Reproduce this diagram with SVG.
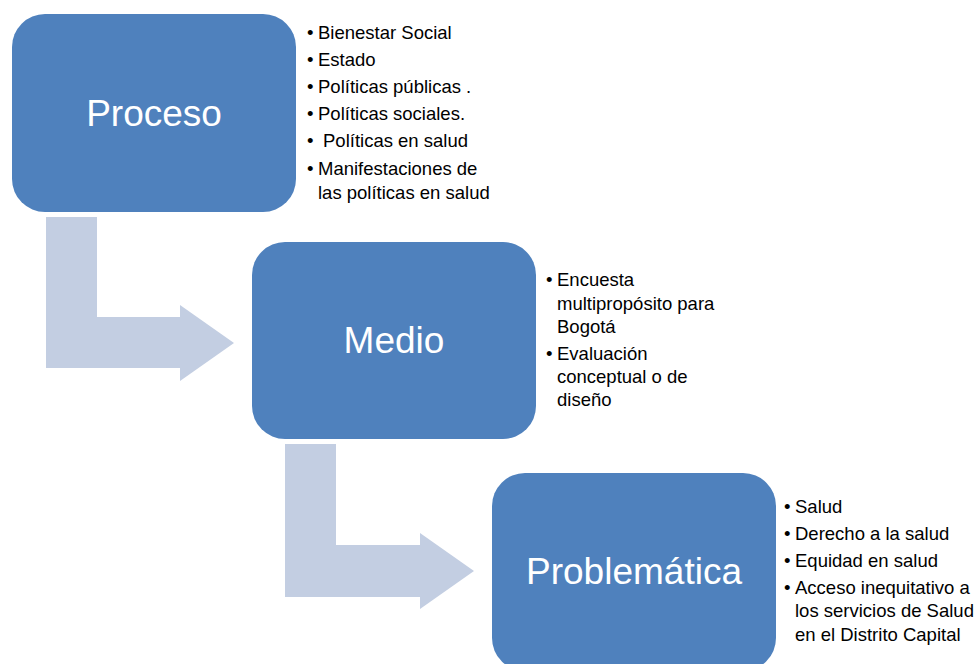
<svg xmlns="http://www.w3.org/2000/svg" width="980" height="664" viewBox="0 0 980 664">
<style>
.box{fill:#4F81BD}
.arr{fill:#C3CEE2}
.lbl{font-family:"Liberation Sans",Arial,sans-serif;font-size:37px;fill:#FFFFFF;text-anchor:middle}
.li{font-family:"Liberation Sans",Arial,sans-serif;font-size:18.5px;fill:#000000}
</style>
<rect width="980" height="664" fill="#FFFFFF"/>
<g id="connectors">
<path class="arr" d="M46,217 H97 V317 H180 V305 L234,343 L180,381 V368 H46 Z"/>
<path class="arr" d="M285,444 H336 V545 H420 V533 L474,571 L420,609 V597 H285 Z"/>
</g>
<g id="proceso">
<rect class="box" x="12" y="14" width="284" height="198" rx="33" ry="33"/>
<text class="lbl" x="154" y="126">Proceso</text>
</g>
<g id="proceso-list">
<text class="li" x="307" y="39">•</text><text class="li" x="318" y="39">Bienestar Social</text>
<text class="li" x="307" y="66">•</text><text class="li" x="318" y="66">Estado</text>
<text class="li" x="307" y="93">•</text><text class="li" x="318" y="93">Políticas públicas .</text>
<text class="li" x="307" y="120">•</text><text class="li" x="318" y="120">Políticas sociales.</text>
<text class="li" x="307" y="147">•</text><text class="li" x="323" y="147">Políticas en salud</text>
<text class="li" x="307" y="175">•</text><text class="li" x="318" y="175">Manifestaciones de</text>
<text class="li" x="318" y="199">las políticas en salud</text>
</g>
<g id="medio">
<rect class="box" x="252" y="242" width="284" height="197" rx="33" ry="33"/>
<text class="lbl" x="394" y="353">Medio</text>
</g>
<g id="medio-list">
<text class="li" x="546" y="286">•</text><text class="li" x="557" y="286">Encuesta</text>
<text class="li" x="557" y="310">multipropósito para</text>
<text class="li" x="557" y="333">Bogotá</text>
<text class="li" x="546" y="360">•</text><text class="li" x="557" y="360">Evaluación</text>
<text class="li" x="557" y="383">conceptual o de</text>
<text class="li" x="557" y="406">diseño</text>
</g>
<g id="problematica">
<rect class="box" x="492" y="473" width="284" height="198" rx="33" ry="33"/>
<text class="lbl" x="634" y="584">Problemática</text>
</g>
<g id="problematica-list">
<text class="li" x="784" y="513">•</text><text class="li" x="795" y="513">Salud</text>
<text class="li" x="784" y="540">•</text><text class="li" x="795" y="540">Derecho a la salud</text>
<text class="li" x="784" y="567">•</text><text class="li" x="795" y="567">Equidad en salud</text>
<text class="li" x="784" y="594">•</text><text class="li" x="795" y="594">Acceso inequitativo a</text>
<text class="li" x="795" y="617">los servicios de Salud</text>
<text class="li" x="795" y="641">en el Distrito Capital</text>
</g>
</svg>
